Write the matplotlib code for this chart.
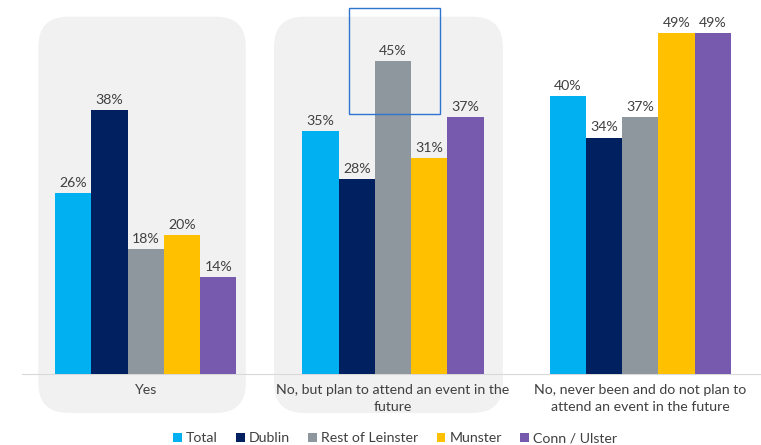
import numpy as np
import matplotlib.pyplot as plt
from matplotlib.patches import FancyBboxPatch, Rectangle

plt.rcParams['font.family'] = ['Lato', 'DejaVu Sans']

categories = ['Yes',
              'No, but plan to attend an event in the\nfuture',
              'No, never been and do not plan to\nattend an event in the future']
series = ['Total', 'Dublin', 'Rest of Leinster', 'Munster', 'Conn / Ulster']
values = {
    'Total':            [26, 35, 40],
    'Dublin':           [38, 28, 34],
    'Rest of Leinster': [18, 45, 37],
    'Munster':          [20, 31, 49],
    'Conn / Ulster':    [14, 37, 49],
}
colors = ['#00b0f0', '#002060', '#8f979e', '#ffc000', '#7759ae']

fig = plt.figure(figsize=(7.61, 4.45), dpi=100)
ax = fig.add_axes([22 / 761, 71 / 445, 742 / 761, 374 / 445])

x = np.arange(len(categories))
width = 0.1467
for i, (name, col) in enumerate(zip(series, colors)):
    vals = np.array(values[name]) / 100
    pos = x + (i - 2) * width
    bars = ax.bar(pos, vals, width, color=col, label=name, zorder=3)
    for b, v in zip(bars, values[name]):
        ax.annotate(f'{v}%', (b.get_x() + b.get_width() / 2, b.get_height()),
                    xytext=(0, 3), textcoords='offset points',
                    ha='center', va='bottom', fontsize=10.2, color='#404040', zorder=4)

ax.set_xlim(-0.5, 2.5)
ax.set_ylim(0, 0.538)

# rounded grey panels behind the first two groups
for cx, x0, x1 in [(0, -0.434, 0.405), (1, -0.481, 0.444)]:
    box = FancyBboxPatch((cx + x0, -0.056), x1 - x0, 0.57,
                         boxstyle='round,pad=0,rounding_size=0.121',
                         mutation_aspect=0.356, facecolor='#f1f1f1',
                         edgecolor='none', zorder=0, clip_on=False)
    ax.add_patch(box)

# highlight frame around Rest of Leinster, second group
ax.add_patch(Rectangle((0.822, 0.374), 0.368, 0.152, fill=False,
                       edgecolor='#2e75d0', linewidth=1.0, zorder=5, clip_on=False))

for s in ['top', 'right', 'left']:
    ax.spines[s].set_visible(False)
ax.spines['bottom'].set_color('#d9d9d9')
ax.spines['bottom'].set_zorder(2)
ax.set_yticks([])
ax.set_xticks(x)
ax.set_xticklabels(categories, fontsize=10.2, color='#404040', linespacing=1.5)
ax.tick_params(axis='x', length=0, pad=7)
ax.set_facecolor('none')

fig.legend(loc='lower center', bbox_to_anchor=(395 / 761, -0.027), ncol=5,
           frameon=False, fontsize=10.2, handlelength=0.6, handleheight=0.6,
           handletextpad=0.3, columnspacing=1.3, labelcolor='#404040')

fig.savefig('out.png', dpi=100)
